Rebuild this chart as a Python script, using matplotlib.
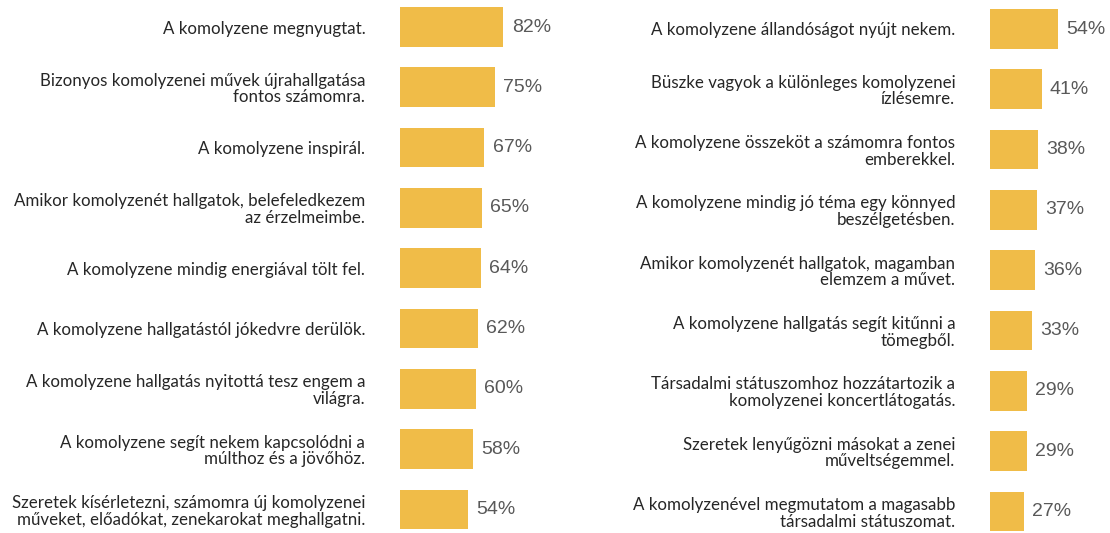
import matplotlib.pyplot as plt

# adatok
labels_left = [
    "A komolyzene megnyugtat.",
    "Bizonyos komolyzenei művek újrahallgatása\nfontos számomra.",
    "A komolyzene inspirál.",
    "Amikor komolyzenét hallgatok, belefeledkezem\naz érzelmeimbe.",
    "A komolyzene mindig energiával tölt fel.",
    "A komolyzene hallgatástól jókedvre derülök.",
    "A komolyzene hallgatás nyitottá tesz engem a\nvilágra.",
    "A komolyzene segít nekem kapcsolódni a\nmúlthoz és a jövőhöz.",
    "Szeretek kísérletezni, számomra új komolyzenei\nműveket, előadókat, zenekarokat meghallgatni.",
]
values_left = [82, 75, 67, 65, 64, 62, 60, 58, 54]

labels_right = [
    "A komolyzene állandóságot nyújt nekem.",
    "Büszke vagyok a különleges komolyzenei\nízlésemre.",
    "A komolyzene összeköt a számomra fontos\nemberekkel.",
    "A komolyzene mindig jó téma egy könnyed\nbeszélgetésben.",
    "Amikor komolyzenét hallgatok, magamban\nelemzem a művet.",
    "A komolyzene hallgatás segít kitűnni a\ntömegből.",
    "Társadalmi státuszomhoz hozzátartozik a\nkomolyzenei koncertlátogatás.",
    "Szeretek lenyűgözni másokat a zenei\nműveltségemmel.",
    "A komolyzenével megmutatom a magasabb\ntársadalmi státuszomat.",
]
values_right = [54, 41, 38, 37, 36, 33, 29, 29, 27]

W, H = 1110, 533
fig = plt.figure(figsize=(W / 100, H / 100), dpi=100)

bar_color = '#F0BC48'
row_px = 60.3
top_px = 27

def panel(x0, labels, values, top):
    ax = fig.add_axes([x0 / W, 0, 126 / W, 1])
    ys = list(range(len(values)))
    bars = ax.barh(ys, values, height=0.66, color=bar_color)
    ax.set_xlim(0, 100)
    ax.set_ylim((H - top) / row_px, -top / row_px)
    ax.set_yticks(ys, labels)
    ax.tick_params(axis='y', length=0, pad=25, labelsize=12.2, labelcolor='#262626')
    for t in ax.get_yticklabels():
        t.set_family(['Lato', 'DejaVu Sans'])
        t.set_linespacing(1.05)
    ax.set_xticks([])
    for s in ax.spines.values():
        s.set_visible(False)
    ax.bar_label(bars, labels=[f'{v}%' for v in values], padding=6,
                 fontsize=14, color='#595959', family='Liberation Sans')
    return ax

panel(400, labels_left, values_left, top_px)
panel(990, labels_right, values_right, top_px + 2)

fig.savefig('out.png', dpi=100, facecolor='white')
